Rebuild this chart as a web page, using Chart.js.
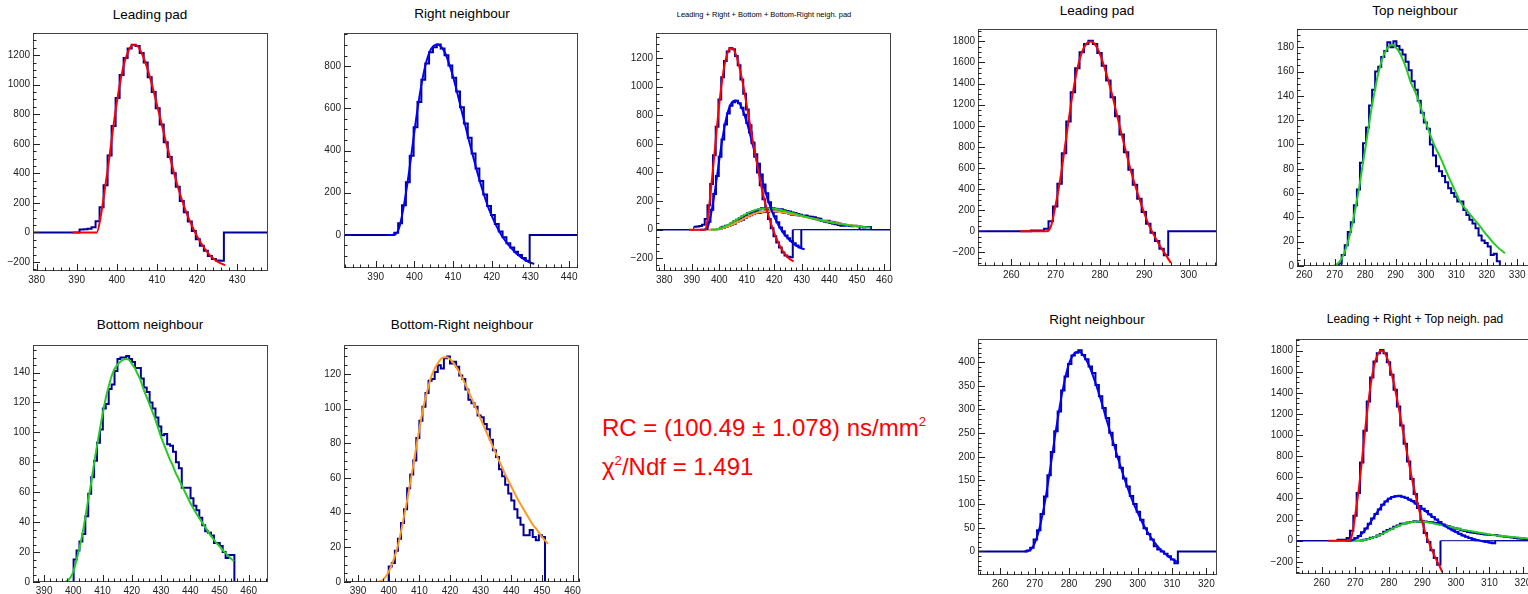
<!DOCTYPE html>
<html lang="en">
<head>
<meta charset="UTF-8">
<title>Pad signal fits</title>
<script src="https://cdn.jsdelivr.net/npm/chart.js"></script>
<style>
    body { margin: 0; width: 1528px; height: 594px; overflow: hidden; background: #fff; position: relative;
           font-family: "Liberation Sans", Arial, sans-serif; }
    canvas { position: absolute; }
    .title { position: absolute; transform: translate(-50%, -50%); white-space: nowrap; color: #000; }
    .rc { position: absolute; left: 602px; color: #ff0000; font-size: 24px; line-height: 24px; white-space: nowrap; }
    .rc sup { font-size: 0.55em; vertical-align: 0.75em; line-height: 0; }
</style>
</head>
<body>

<div class="rc" style="top:416px">RC = (100.49 ± 1.078) ns/mm<sup>2</sup></div>
<div class="rc" style="top:455px">χ<sup>2</sup>/Ndf = 1.491</div>

<script>
// ---- left group: leading / right / bottom / bottom-right pads (1 ns bins) ----
const leadL_start = 390.7;
const leadL_counts = [20, 22, 25, 35, 75, 170, 320, 520, 720, 910, 1065, 1180, 1245, 1270, 1262, 1215, 1150, 1050,
    950, 840, 730, 610, 510, 400, 310, 212, 137, 74, 10, -46, -90, -124, -160, -180, -190, -192];
const leadL_fitStart = 389;
const leadL_fit = [0, 0, 0, 0, 0, 0, 0, 110, 290, 480, 690, 880, 1040, 1160, 1235, 1268, 1265, 1225, 1160, 1075,
    975, 865, 755, 640, 535, 430, 330, 240, 160, 90, 30, -25, -72, -112, -148, -175, -196, -210, -222];

const rightL_start = 394.8;
const rightL_counts = [10, 55, 140, 250, 375, 510, 630, 735, 812, 866, 890, 902, 884, 852, 803, 745, 680, 605, 528,
    461, 386, 315, 255, 192, 137, 94, 52, 16, -11, -40, -60, -80, -95, -110, -123];
const rightL_fitStart = 393;
const rightL_fit = [0, 0, 2, 30, 110, 220, 350, 490, 620, 730, 815, 870, 897, 903, 890, 860, 810, 750, 680, 605,
    530, 455, 385, 315, 250, 190, 135, 90, 50, 15, -15, -40, -62, -82, -98, -112, -123, -132, -137];

const botL_start = 400.1;
const botL_counts = [15, 21, 27, 32, 44, 59, 70, 81, 93, 102, 116, 119, 129, 132, 141, 149, 150, 150, 151, 149, 147,
    143, 143, 136, 130, 127, 120, 116, 110, 104, 98, 99, 92, 91, 87, 80, 76, 63, 63, 63, 56, 51, 48, 43, 38, 34, 33,
    31, 26, 26, 24, 20, 16, 18, 18];
const botL_fitStart = 397;
const botL_fit = [0, 1, 3, 7, 14, 22, 31, 42, 54, 65, 78, 90, 101, 112, 122, 130, 137, 142, 145, 147, 148.5, 149,
    148.5, 146, 143, 139, 135, 129, 124, 119, 114, 109, 103, 97, 92, 87, 82, 78, 73, 69, 65, 61, 57, 53, 49.5, 46, 43,
    40, 37, 34, 31, 28.5, 26, 24, 21.5, 19.5, 17.5, 15.5, 14];

const brL_start = 400;
const brL_counts = [9, 11, 18, 25, 34, 42, 54, 62, 70, 83, 93, 101, 109, 116, 117, 121, 125, 123, 129, 130, 126, 127,
    124, 119, 117, 111, 105, 103, 101, 96, 95, 91, 88, 82, 76, 72, 65, 61, 56, 51, 47, 42, 37, 33, 27, 27, 30, 26, 24,
    27, 26];
const brL_fitStart = 396;
const brL_fit = [0, 0.3, 1, 3, 6, 10, 15, 21, 29, 38, 47, 57, 67, 78, 88, 98, 106, 113, 119, 123, 126, 128.5, 129.5,
    129.5, 128.5, 126.5, 124, 121, 117.5, 114, 110, 106, 102, 98, 94, 90, 86, 82, 78, 74, 70, 66, 62, 58.5, 55, 51.5,
    48, 45, 42, 39, 36, 33, 31, 28.5, 26, 24, 22];

// ---- right group: leading / top / right pads ----
const leadR_start = 264.4;
const leadR_counts = [8, 8, 8, 25, 95, 236, 451, 741, 1040, 1318, 1545, 1696, 1775, 1806, 1775, 1690, 1570, 1428,
    1270, 1091, 917, 750, 583, 441, 309, 183, 72, -13, -91, -164, -227];
const leadR_fitStart = 262;
const leadR_fit = [0, 0, 0, 0, 0, 0, 0, 55, 250, 480, 770, 1070, 1340, 1560, 1705, 1780, 1798, 1765, 1680, 1556,
    1412, 1252, 1073, 900, 733, 569, 428, 296, 172, 63, -21, -98, -170, -232, -300];

const topR_start = 271.3;
const topR_counts = [2, 9, 17, 28, 36, 50, 63, 85, 101, 114, 132, 145, 160, 164, 172, 177, 184, 180, 185, 181, 178,
    174, 168, 161, 152, 145, 136, 126, 118, 113, 100, 91, 82, 78, 74, 69, 64, 60, 57, 53, 53, 46, 42, 38, 35, 31, 25,
    21, 19, 16, 9, 10, 4];
const topR_fitStart = 268;
const topR_fit = [0, 0, 0.5, 2, 5, 10, 17, 26, 37, 50, 64, 80, 96, 112, 128, 142, 155, 165, 173, 178, 181, 182, 180,
    177, 172, 166, 159, 151, 146, 140, 133, 125, 118, 111, 104, 98, 93, 88, 82, 76, 70.5, 65, 59.5, 54, 50, 47, 44,
    41, 38, 35, 32, 28.5, 25.5, 22.5, 19.5, 17, 14.5, 12.5, 10.5];

const rightR_start = 267.7;
const rightR_counts = [2, 8, 25, 45, 79, 116, 161, 210, 254, 296, 340, 370, 396, 414, 420, 425, 415, 406, 391, 377,
    352, 328, 303, 282, 251, 225, 200, 177, 154, 137, 117, 100, 84, 67, 49, 37, 25, 11, 4, 0, -5, -10, -17, -25];
const rightR_fitStart = 267;
const rightR_fit = [0, 1, 5, 17, 38, 68, 105, 150, 198, 248, 293, 335, 370, 397, 413, 421, 422, 416, 405, 390, 371,
    350, 327, 302, 277, 252, 228, 203, 180, 157, 136, 116, 98, 82, 66, 52, 40, 28, 18, 9, 2, -5, -11, -16, -20, -23];

const HIST = '#000099';
const RED = '#ff0000', BLUE = '#0000ff', GREEN = '#22cc22', ORANGE = '#ff9922';

function histPoints(start, counts, xmin, xmax) {
    const pts = [{ x: xmin, y: 0 }];
    counts.forEach((c, i) => pts.push({ x: start + i, y: c }));
    pts.push({ x: start + counts.length, y: 0 }, { x: xmax, y: 0 });
    return pts;
}
function fitPoints(start, vals) {
    return vals.map((v, i) => ({ x: start + i, y: v }));
}

const hists = {
    leadL: [leadL_start, leadL_counts], rightL: [rightL_start, rightL_counts],
    botL: [botL_start, botL_counts], brL: [brL_start, brL_counts],
    leadR: [leadR_start, leadR_counts], topR: [topR_start, topR_counts], rightR: [rightR_start, rightR_counts]
};
const fits = {
    leadL: [leadL_fitStart, leadL_fit, RED], rightL: [rightL_fitStart, rightL_fit, BLUE],
    botL: [botL_fitStart, botL_fit, GREEN], brL: [brL_fitStart, brL_fit, ORANGE],
    leadR: [leadR_fitStart, leadR_fit, RED], topR: [topR_fitStart, topR_fit, GREEN], rightR: [rightR_fitStart, rightR_fit, BLUE]
};

// frame = [left, top, right, bottom] in page pixels; thin = combined pad with a thin zero baseline
const panels = [
    { title: 'Leading pad', tx: 150, ty: 14, ts: 13.5, frame: [33, 32, 268, 271], x: [379.1, 437.7], y: [-261, 1350], ys: 200, ym: 50, sets: ['leadL'] },
    { title: 'Right neighbour', tx: 462, ty: 13, ts: 13.5, frame: [344, 32, 578, 268], x: [381.8, 442.3], y: [-157, 957], ys: 200, ym: 50, sets: ['rightL'] },
    { title: 'Leading + Right + Bottom + Bottom-Right neigh. pad', tx: 764, ty: 14, ts: 7.5, frame: [656, 32, 891, 271], x: [377, 462.4], y: [-289, 1375], ys: 200, ym: 50, thin: true, sets: ['leadL', 'rightL', 'botL', 'brL'] },
    { title: 'Bottom neighbour', tx: 150, ty: 324, ts: 13.5, frame: [33, 344, 268, 582], x: [386.2, 466.6], y: [0, 158.4], ys: 20, ym: 5, sets: ['botL'] },
    { title: 'Bottom-Right neighbour', tx: 462, ty: 324, ts: 13.5, frame: [344, 344, 579, 582], x: [385.4, 462.1], y: [0, 136.6], ys: 20, ym: 5, sets: ['brL'] },
    { title: 'Leading pad', tx: 1097, ty: 10, ts: 13.5, frame: [978, 28, 1217, 266], x: [252.5, 306.4], y: [-328, 1917], ys: 200, ym: 50, sets: ['leadR'] },
    { title: 'Top neighbour', tx: 1415, ty: 10, ts: 13.5, frame: [1297, 28, 1533, 266], x: [257.6, 335.2], y: [0, 195], ys: 20, ym: 5, sets: ['topR'] },
    { title: 'Right neighbour', tx: 1097, ty: 319, ts: 13.5, frame: [978, 338, 1217, 575], x: [253.5, 323.1], y: [-49.8, 449], ys: 50, ym: 10, sets: ['rightR'] },
    { title: 'Leading + Right + Top neigh. pad', tx: 1415, ty: 319, ts: 12, frame: [1296, 338, 1534, 574], x: [252.3, 323.3], y: [-315, 1909], ys: 200, ym: 50, thin: true, sets: ['leadR', 'rightR', 'topR'] }
];

// ROOT-like frame with ticks drawn inside
const rootAxes = {
    id: 'rootAxes',
    afterDraw(chart, args, o) {
        const { ctx, chartArea: a, scales: { x, y } } = chart;
        ctx.save();
        ctx.strokeStyle = '#444';
        ctx.lineWidth = 1;
        ctx.strokeRect(a.left + 0.5, a.top + 0.5, a.right - a.left - 1, a.bottom - a.top - 1);
        ctx.beginPath();
        for (let v = Math.ceil(x.min / o.xm) * o.xm; v <= x.max; v += o.xm) {
            const px = Math.round(x.getPixelForValue(v)) + 0.5;
            const len = (Math.abs(v % o.xs) < 1e-6) ? 7 : 3.5;
            ctx.moveTo(px, a.bottom);
            ctx.lineTo(px, a.bottom - len);
        }
        for (let v = Math.ceil(y.min / o.ym) * o.ym; v <= y.max; v += o.ym) {
            const py = Math.round(y.getPixelForValue(v)) + 0.5;
            const len = (Math.abs(v % o.ys) < 1e-6) ? 7 : 3.5;
            ctx.moveTo(a.left, py);
            ctx.lineTo(a.left + len, py);
        }
        ctx.strokeStyle = '#222';
        ctx.stroke();
        ctx.restore();
    }
};

const tickFont = { family: "'Liberation Sans', Arial, sans-serif", size: 10 };
const fmt = v => String(v).replace('-', '\u2212');

// labelled ticks only at round multiples of the step
function roundTicks(step) {
    return s => {
        const t = [];
        for (let v = Math.ceil(s.min / step) * step; v <= s.max + 1e-9; v += step) t.push({ value: v });
        s.ticks = t;
    };
}

function makePanel(p) {
    const [fl, ft, fr, fb] = p.frame;
    const padL = 40, padT = 8, padR = 14, padB = 22;
    const cv = document.createElement('canvas');
    const w = fr - fl + padL + padR, h = fb - ft + padT + padB;
    cv.width = w; cv.height = h;
    cv.style.width = w + 'px'; cv.style.height = h + 'px';
    cv.style.left = (fl - padL) + 'px';
    cv.style.top = (ft - padT) + 'px';
    document.body.appendChild(cv);

    const t = document.createElement('div');
    t.className = 'title';
    t.textContent = p.title;
    t.style.left = p.tx + 'px';
    t.style.top = p.ty + 'px';
    t.style.fontSize = p.ts + 'px';
    document.body.appendChild(t);

    const datasets = [];
    p.sets.forEach(k => {
        const [fs, fv, col] = fits[k];
        datasets.push({ data: fitPoints(fs, fv), borderColor: col, borderWidth: 2, pointRadius: 0,
            cubicInterpolationMode: 'monotone', order: 1 });
        const [hs, hc] = hists[k];
        const hd = { data: histPoints(hs, hc, p.x[0], p.x[1]), borderColor: HIST, borderWidth: 2,
            pointRadius: 0, stepped: 'before', order: 2 };
        if (p.thin) {
            hd.segment = { borderWidth: c => (c.p0.parsed.y === 0 ? 1 : 2) };
        }
        datasets.push(hd);
    });

    new Chart(cv, {
        type: 'line',
        data: { datasets },
        options: {
            responsive: false,
            animation: false,
            events: [],
            layout: { padding: { left: 0, top: padT, right: padR, bottom: 0 } },
            plugins: {
                legend: { display: false },
                tooltip: { enabled: false },
                rootAxes: { xs: 10, xm: 2, ys: p.ys, ym: p.ym }
            },
            scales: {
                x: {
                    type: 'linear', min: p.x[0], max: p.x[1],
                    grid: { display: false, drawTicks: false }, border: { display: false },
                    afterBuildTicks: roundTicks(10),
                    ticks: { autoSkip: false, maxRotation: 0, padding: 3, font: tickFont, color: '#222', callback: fmt },
                    afterFit: s => { s.height = padB; }
                },
                y: {
                    type: 'linear', min: p.y[0], max: p.y[1],
                    grid: { display: false, drawTicks: false }, border: { display: false },
                    afterBuildTicks: roundTicks(p.ys),
                    ticks: { autoSkip: false, padding: 3, font: tickFont, color: '#222', callback: fmt },
                    afterFit: s => { s.width = padL; }
                }
            }
        },
        plugins: [rootAxes]
    });
}

panels.forEach(makePanel);
</script>
</body>
</html>
